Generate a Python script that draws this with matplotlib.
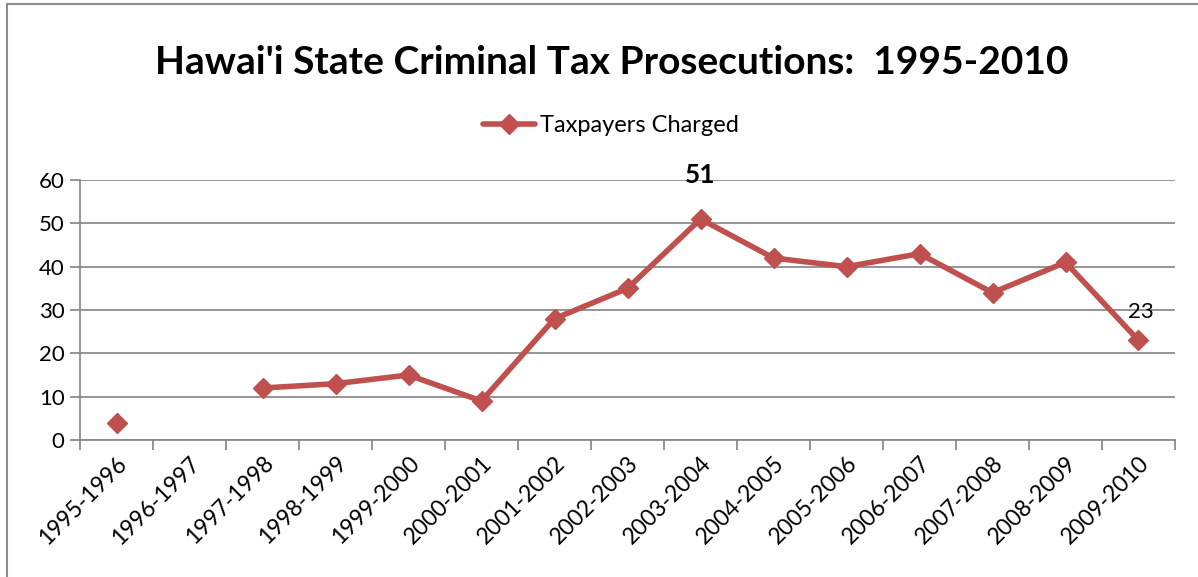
import numpy as np
import matplotlib.pyplot as plt
import matplotlib.patches as mpatches

seasons = ['1995-1996', '1996-1997', '1997-1998', '1998-1999', '1999-2000',
           '2000-2001', '2001-2002', '2002-2003', '2003-2004', '2004-2005',
           '2005-2006', '2006-2007', '2007-2008', '2008-2009', '2009-2010']
charged = [4, np.nan, 12, 13, 15, 9, 28, 35, 51, 42, 40, 43, 34, 41, 23]
yticks = [0, 10, 20, 30, 40, 50, 60]

red = '#C0504D'
grid_gray = '#8C8C8C'
plt.rcParams['font.family'] = ['Lato', 'DejaVu Sans']

fig = plt.figure(figsize=(11.98, 5.77), dpi=100)
ax = fig.add_axes([0.0668, 0.2374, 0.9140, 0.4506])

x = np.arange(len(seasons))
ax.plot(x, charged, color=red, lw=4, marker='D', ms=10, solid_capstyle='round',
        label='Taxpayers Charged')

ax.set_xlim(-0.5, len(seasons) - 0.5)
ax.set_ylim(0, 60)
ax.set_yticks(yticks)
ax.set_yticklabels([str(v) for v in yticks], fontsize=16)
ax.yaxis.grid(True, color=grid_gray, lw=1.3)
ax.set_axisbelow(True)

# tick marks between categories, labels on categories
ax.set_xticks(np.arange(len(seasons) + 1) - 0.5)
ax.set_xticklabels([])
ax.set_xticks(x, minor=True)
ax.set_xticklabels(seasons, minor=True, rotation=45, ha='right', va='top',
                   rotation_mode='anchor', fontsize=16.5)
ax.tick_params(axis='x', which='minor', length=0, pad=9)
ax.tick_params(axis='x', which='major', length=7, color=grid_gray, width=1.3)
ax.tick_params(axis='y', length=7, color=grid_gray, width=1.3, pad=4)

for s in ['top', 'right']:
    ax.spines[s].set_visible(False)
for s in ['left', 'bottom']:
    ax.spines[s].set_color(grid_gray)
    ax.spines[s].set_linewidth(1.3)

ax.annotate('51', (8, 51), xytext=(0, 23), textcoords='offset points',
            ha='center', va='bottom', fontsize=19, fontweight='bold')
ax.annotate('23', (14, 23), xytext=(2, 13), textcoords='offset points',
            ha='center', va='bottom', fontsize=16)

fig.text(0.511, 0.892, "Hawai'i State Criminal Tax Prosecutions:  1995-2010",
         ha='center', va='center', fontsize=28, fontweight='bold')

fig.legend(loc='center', bbox_to_anchor=(0.51, 0.782), frameon=False,
           fontsize=17, handlelength=2.2, handletextpad=0.2)

# outer chart frame
fig.patches.append(mpatches.Rectangle((7 / 1198, -0.1), 1.2, 1.1 - 4 / 577,
                                      transform=fig.transFigure, fill=False,
                                      edgecolor='#8C8C8C', lw=1.5))

fig.savefig('out.png', dpi=100)
